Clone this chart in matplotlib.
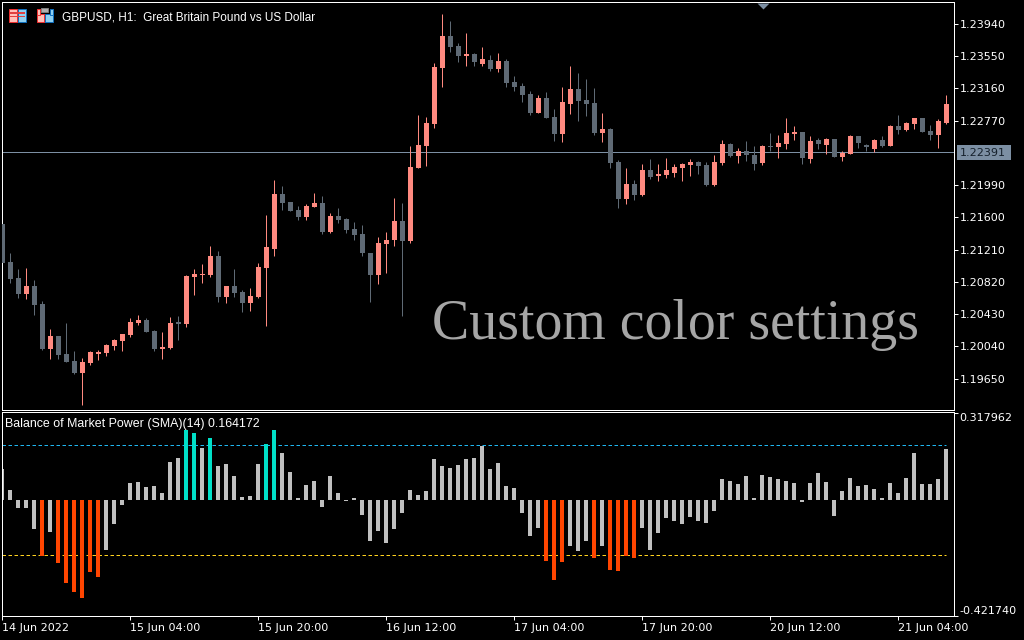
import matplotlib
matplotlib.use("Agg")
import matplotlib.pyplot as plt
import numpy as np
from matplotlib.patches import Rectangle

# GBPUSD H1 candles
opens = [1.21520, 1.21060, 1.20866, 1.20673, 1.20769, 1.20552, 1.20007, 1.20164, 1.19947, 1.19862,
         1.19717, 1.19838, 1.19947, 1.19959, 1.20043, 1.20104, 1.20177, 1.20322, 1.20358, 1.20225,
         1.20007, 1.20019, 1.20334, 1.20310, 1.20878, 1.20903, 1.20903, 1.21132, 1.20636, 1.20769,
         1.20697, 1.20564, 1.20636, 1.20987, 1.21217, 1.21883, 1.21786, 1.21689, 1.21604, 1.21725,
         1.21774, 1.21423, 1.21616, 1.21580, 1.21459, 1.21399, 1.21169, 1.20903, 1.21278, 1.21326,
         1.21556, 1.21314, 1.22197, 1.22463, 1.22730, 1.23407, 1.23794, 1.23673, 1.23552, 1.23577,
         1.23456, 1.23504, 1.23395, 1.23492, 1.23238, 1.23189, 1.23093, 1.22863, 1.23044, 1.22814,
         1.22609, 1.22972, 1.23153, 1.23020, 1.22984, 1.22621, 1.22669, 1.22270, 1.21822, 1.22004,
         1.21871, 1.22173, 1.22100, 1.22113, 1.22137, 1.22197, 1.22234, 1.22270, 1.22234, 1.21992,
         1.22258, 1.22488, 1.22342, 1.22403, 1.22355, 1.22258, 1.22463, 1.22451, 1.22488, 1.22609,
         1.22633, 1.22306, 1.22536, 1.22476, 1.22548, 1.22330, 1.22367, 1.22584, 1.22476, 1.22427,
         1.22536, 1.22463, 1.22705, 1.22657, 1.22730, 1.22802, 1.22645, 1.22597, 1.22742]
highs = [1.21520, 1.21169, 1.20975, 1.20987, 1.20842, 1.20588, 1.20249, 1.20164, 1.20322, 1.19983,
         1.19898, 1.19983, 1.19995, 1.20068, 1.20128, 1.20189, 1.20382, 1.20419, 1.20382, 1.20237,
         1.20213, 1.20394, 1.20406, 1.20903, 1.20975, 1.21036, 1.21253, 1.21193, 1.20769, 1.20975,
         1.20721, 1.20745, 1.21048, 1.21629, 1.22052, 1.21979, 1.21786, 1.21737, 1.21762, 1.21895,
         1.21858, 1.21653, 1.21713, 1.21592, 1.21544, 1.21508, 1.21169, 1.21362, 1.21423, 1.21834,
         1.21774, 1.22463, 1.22839, 1.22814, 1.23468, 1.24061, 1.23976, 1.23710, 1.23831, 1.23589,
         1.23661, 1.23565, 1.23589, 1.23516, 1.23310, 1.23226, 1.23129, 1.23081, 1.23117, 1.22911,
         1.23177, 1.23431, 1.23347, 1.23274, 1.23165, 1.22863, 1.22681, 1.22294, 1.22197, 1.22052,
         1.22246, 1.22306, 1.22246, 1.22318, 1.22246, 1.22258, 1.22306, 1.22282, 1.22270, 1.22355,
         1.22536, 1.22500, 1.22439, 1.22524, 1.22463, 1.22476, 1.22621, 1.22597, 1.22802, 1.22705,
         1.22633, 1.22584, 1.22560, 1.22560, 1.22548, 1.22403, 1.22597, 1.22584, 1.22488, 1.22548,
         1.22584, 1.22718, 1.22839, 1.22754, 1.22802, 1.22802, 1.22718, 1.22790, 1.23081]
lows = [1.21048, 1.20806, 1.20624, 1.20612, 1.20419, 1.19995, 1.19886, 1.19886, 1.19850, 1.19705,
        1.19330, 1.19814, 1.19874, 1.19922, 1.19995, 1.19983, 1.20152, 1.20298, 1.20213, 1.19983,
        1.19886, 1.20007, 1.20116, 1.20273, 1.20661, 1.20806, 1.20878, 1.20576, 1.20564, 1.20636,
        1.20455, 1.20467, 1.20624, 1.20285, 1.21132, 1.21689, 1.21677, 1.21568, 1.21568, 1.21725,
        1.21399, 1.21411, 1.21532, 1.21411, 1.21326, 1.21132, 1.20576, 1.20794, 1.20927, 1.21253,
        1.20406, 1.21290, 1.22197, 1.22221, 1.22681, 1.23177, 1.23601, 1.23480, 1.23431, 1.23431,
        1.23431, 1.23371, 1.23359, 1.23177, 1.23129, 1.22996, 1.22839, 1.22863, 1.22802, 1.22524,
        1.22512, 1.22851, 1.22766, 1.22826, 1.22597, 1.22512, 1.22197, 1.21713, 1.21762, 1.21810,
        1.21858, 1.22064, 1.22040, 1.22076, 1.22088, 1.22040, 1.22100, 1.22125, 1.21979, 1.21979,
        1.22234, 1.22330, 1.22258, 1.22282, 1.22173, 1.22234, 1.22403, 1.22318, 1.22427, 1.22536,
        1.22246, 1.22258, 1.22427, 1.22367, 1.22330, 1.22282, 1.22367, 1.22439, 1.22403, 1.22391,
        1.22451, 1.22463, 1.22609, 1.22645, 1.22669, 1.22633, 1.22536, 1.22439, 1.22730]
closes = [1.21048, 1.20854, 1.20673, 1.20769, 1.20540, 1.20007, 1.20164, 1.19935, 1.19850, 1.19717,
          1.19850, 1.19971, 1.19971, 1.20056, 1.20116, 1.20189, 1.20334, 1.20358, 1.20213, 1.20007,
          1.20031, 1.20322, 1.20310, 1.20890, 1.20915, 1.20915, 1.21132, 1.20636, 1.20769, 1.20685,
          1.20564, 1.20648, 1.21000, 1.21241, 1.21883, 1.21774, 1.21677, 1.21604, 1.21737, 1.21774,
          1.21423, 1.21616, 1.21568, 1.21447, 1.21387, 1.21169, 1.20903, 1.21290, 1.21326, 1.21556,
          1.21314, 1.22209, 1.22476, 1.22742, 1.23419, 1.23794, 1.23661, 1.23552, 1.23577, 1.23480,
          1.23516, 1.23395, 1.23492, 1.23226, 1.23177, 1.23081, 1.22863, 1.23044, 1.22802, 1.22609,
          1.22996, 1.23153, 1.23008, 1.22972, 1.22621, 1.22669, 1.22258, 1.21822, 1.22004, 1.21871,
          1.22173, 1.22088, 1.22125, 1.22173, 1.22209, 1.22246, 1.22270, 1.22221, 1.21992, 1.22270,
          1.22488, 1.22342, 1.22403, 1.22355, 1.22246, 1.22463, 1.22451, 1.22500, 1.22621, 1.22633,
          1.22318, 1.22524, 1.22488, 1.22548, 1.22330, 1.22379, 1.22584, 1.22500, 1.22451, 1.22536,
          1.22463, 1.22705, 1.22657, 1.22742, 1.22802, 1.22633, 1.22597, 1.22766, 1.22972]

# Balance of Market Power values
bomp = [0.113, 0.036, -0.029, -0.029, -0.106, -0.204, -0.117, -0.230, -0.303, -0.335,
        -0.357, -0.262, -0.281, -0.182, -0.087, -0.018, 0.062, 0.066, 0.047, 0.051,
        0.026, 0.139, 0.153, 0.255, 0.244, 0.190, 0.226, 0.124, 0.131, 0.087,
        0.011, 0.015, 0.131, 0.204, 0.255, 0.171, 0.102, 0.007, 0.055, 0.069,
        -0.026, 0.087, 0.026, -0.004, 0.007, -0.055, -0.149, -0.113, -0.157, -0.106,
        -0.047, 0.036, 0.018, 0.033, 0.149, 0.124, 0.117, 0.128, 0.149, 0.153,
        0.197, 0.113, 0.135, 0.051, 0.044, -0.047, -0.131, -0.102, -0.222, -0.292,
        -0.226, -0.168, -0.186, -0.149, -0.211, -0.168, -0.255, -0.259, -0.204, -0.211,
        -0.102, -0.182, -0.120, -0.066, -0.077, -0.087, -0.062, -0.077, -0.084, -0.040,
        0.077, 0.069, 0.058, 0.087, 0.007, 0.091, 0.084, 0.077, 0.069, 0.062,
        -0.007, 0.062, 0.098, 0.066, -0.058, 0.033, 0.080, 0.051, 0.055, 0.040,
        0.007, 0.062, 0.026, 0.080, 0.171, 0.058, 0.058, 0.077, 0.186]

price_ticks = [1.19650, 1.20040, 1.20430, 1.20820, 1.21210, 1.21600, 1.21990, 1.22770, 1.23160, 1.23550, 1.23940]
last_price = 1.22391
bomp_ticks = [-0.421740, 0.317962]
level = 0.2
time_labels = ["14 Jun 2022", "15 Jun 04:00", "15 Jun 20:00", "16 Jun 12:00",
               "17 Jun 04:00", "17 Jun 20:00", "20 Jun 12:00", "21 Jun 04:00"]

UP = "#FF8A80"
DOWN = "#5F6A75"
PRICE_LINE = "#7C8FA3"
LABEL_FONT = "DejaVu Sans"
PX = 0.72  # one pixel in points at dpi 100
W, H = 1024, 640


def px_axes(left, top, right, bottom):
    return [left / W, 1 - bottom / H, (right - left) / W, (bottom - top) / H]


def px_rect(x, y, w, h, color, edge=None):
    fig.add_artist(Rectangle((x / W, 1 - (y + h) / H), w / W, h / H, transform=fig.transFigure,
                             facecolor=color, edgecolor=edge or color, linewidth=0.7 if edge else 0))


o = np.array(opens)
h = np.array(highs)
l = np.array(lows)
c = np.array(closes)
b = np.array(bomp)
x = np.arange(len(o))

fig = plt.figure(figsize=(W / 100, H / 100), dpi=100, facecolor="black")
ax1 = fig.add_axes(px_axes(2, 2, 954, 410), facecolor="black")
ax2 = fig.add_axes(px_axes(2, 412, 954, 616), facecolor="black")

# candles
colors = [UP if c[i] >= o[i] else DOWN for i in x]
ax1.axhline(last_price, color=PRICE_LINE, linewidth=PX, zorder=1)
ax1.vlines(x, l, h, colors=colors, linewidth=PX, zorder=2)
ax1.bar(x, np.abs(c - o), bottom=np.minimum(o, c), width=0.625, color=colors, linewidth=0, zorder=3)
ax1.set_xlim(-0.0425, 118.9575)
ax1.set_ylim(1.19269, 1.242058)
ax1.set_xticks([])
ax1.yaxis.tick_right()
ax1.set_yticks(price_ticks)
ax1.set_yticklabels(["%.5f" % t for t in price_ticks], fontfamily=LABEL_FONT, fontsize=8, color="white")
ax1.tick_params(axis="y", colors="white", length=3, width=PX, pad=1)
ax1.plot([95.06], [1.24157], marker=[(-1, 0.5), (1, 0.5), (0, -0.5)], markersize=8.6, color=PRICE_LINE,
         clip_on=False, zorder=5, markeredgewidth=0)

# indicator
bar_colors = ["#00E0C8" if v > level else "#FF4500" if v < -level else "#C0C0C0" for v in b]
ax2.bar(x - 0.04, b, width=0.5, color=bar_colors, linewidth=0, zorder=2)
ax2.hlines([level], 0, 118, colors="#1FB6F0", linewidth=PX, linestyles=(0, (3.5, 2.5)), zorder=1)
ax2.hlines([-level], 0, 118, colors="#FFD21F", linewidth=PX, linestyles=(0, (3.5, 2.5)), zorder=1)
ax2.set_xlim(-0.0425, 118.9575)
ax2.set_ylim(-0.4227, 0.3207)
ax2.yaxis.tick_right()
ax2.set_yticks(bomp_ticks)
ax2.set_yticklabels(["%.6f" % t for t in bomp_ticks], fontfamily=LABEL_FONT, fontsize=8, color="white")
ax2.get_yticklabels()[0].set_va("bottom")
ax2.get_yticklabels()[1].set_va("top")
ax2.tick_params(axis="y", colors="white", length=3, width=PX, pad=1)
ax2.set_xticks(x[::16])
ax2.set_xticklabels(time_labels, fontfamily=LABEL_FONT, fontsize=8, color="white", ha="left")
ax2.tick_params(axis="x", colors="white", length=3, width=PX, pad=2)

for ax in (ax1, ax2):
    for s in ax.spines.values():
        s.set_color("white")
        s.set_linewidth(PX)

# texts on the panes
fig.text(62 / W, 1 - 21 / H, "GBPUSD, H1:  Great Britain Pound vs US Dollar", color="white",
         fontsize=8.45, family="Liberation Sans", va="baseline")
fig.text(5 / W, 1 - 427 / H, "Balance of Market Power (SMA)(14) 0.164172", color="white",
         fontsize=8.9, family="Liberation Sans", va="baseline")
fig.text(432 / W, 1 - 339 / H, "Custom color settings", color="#A6A6A6", fontsize=40.2,
         family="Liberation Serif", va="baseline", zorder=6)

# last price tag
px_rect(956.5, 144.5, 54.5, 15, PRICE_LINE)
fig.text(960 / W, 1 - 156.5 / H, "%.5f" % last_price, color="#15202B", fontsize=8,
         family=LABEL_FONT, va="baseline")

# toolbar icons top left
px_rect(9, 9, 8, 13, "#FFC0B8", "#F03030")
px_rect(18, 9, 8, 13, "#8FD0F0", "#1070C0")
for yy in (12.5, 16):
    px_rect(10, yy, 15, 1, "#E04040")
px_rect(36.5, 14, 7, 8, "#FFC0B8", "#F03030")
px_rect(36.5, 9, 3, 6, "#FFC0B8", "#F03030")
px_rect(45, 14, 8, 8, "#8FD0F0", "#1070C0")
px_rect(50, 9, 3, 6, "#8FD0F0", "#1070C0")
px_rect(41, 8, 7, 4, "#B0B0B0", "#808080")

fig.savefig("out.png", dpi=100, facecolor="black")
